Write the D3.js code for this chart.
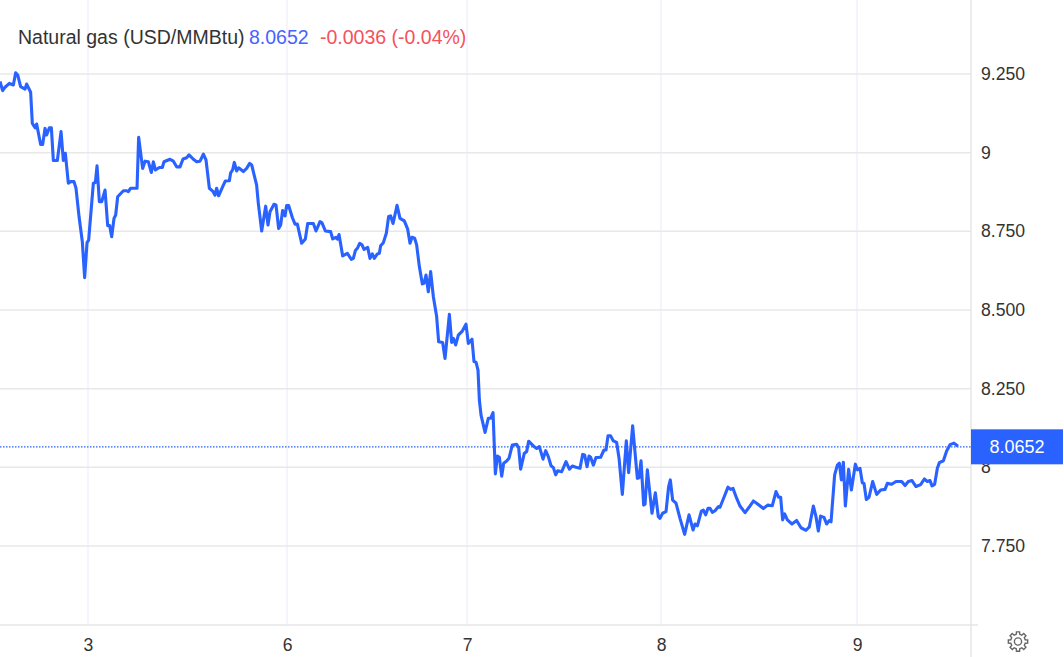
<!DOCTYPE html>
<html>
<head>
<meta charset="utf-8">
<title>Natural gas</title>
<script src="https://cdn.jsdelivr.net/npm/d3@7"></script>
<style>
  html, body { margin: 0; padding: 0; background: #fff; }
  svg { display: block; font-family: "Liberation Sans", Arial, sans-serif; }
</style>
</head>
<body>
<svg id="chart" width="1064" height="657"></svg>
<script>
// hours of trading since the left edge of the chart
const hours = [0,.33,.63,1.17,1.67,1.96,2.21,2.58,3.13,3.33,3.83,4.04,4.38,4.58,5.08,5.33,5.63,5.83,6.17,6.42,6.67,7.17,7.63,7.92,8.17,8.54,8.83,9.25,9.5,9.88,
  10.29,10.58,10.88,11.08,11.67,11.92,12.13,12.42,12.71,13.13,13.46,13.71,13.96,14.25,14.46,14.71,15.42,15.83,16.04,16.33,17.13,17.33,17.83,18.13,18.54,18.92,19.17,19.42,19.92,20.29,
  20.5,21.25,21.67,22.08,22.5,22.88,23.33,23.63,24.17,24.58,25,25.42,25.75,26.17,26.58,26.88,27.08,27.33,27.92,28.17,28.67,28.83,29.08,29.29,29.58,29.83,30.42,30.83,31.21,31.46,
  32.08,32.29,32.71,33.21,33.5,33.75,34.25,34.5,34.83,35.08,35.33,35.63,35.83,36.08,36.54,36.88,37.17,37.71,38.17,38.46,39.17,39.5,40,40.25,40.67,41.33,41.58,42,42.17,42.38,
  42.83,43.42,43.92,44.17,44.42,44.67,44.96,45.25,45.5,45.96,46.25,46.54,46.79,47.17,47.42,47.58,47.92,48.29,48.58,48.83,49.13,49.63,50,50.54,50.96,51.25,51.5,51.83,52.08,52.42,
  52.79,53,53.25,53.54,53.83,54.17,54.58,54.83,55.33,55.63,56.17,56.46,56.67,56.96,57.29,57.79,58.25,58.54,59,59.25,59.5,59.75,59.92,60.13,60.63,61.04,61.33,61.63,61.92,62.17,
  62.42,62.71,62.96,63.33,63.63,64.04,64.58,64.83,65.08,65.54,65.83,66.08,66.67,67.08,67.42,67.88,68.21,68.54,68.88,69.17,69.46,69.71,70.21,70.75,71.17,71.54,72,72.5,72.83,73.08,
  73.38,73.63,73.83,74.17,74.5,75.08,75.5,75.75,76,76.33,76.67,77.08,77.38,77.79,78.29,78.58,79.08,79.67,79.88,80.13,80.46,80.63,80.92,81.5,81.92,82.29,82.5,82.83,83.25,83.58,
  83.79,84.08,84.5,85,85.58,86.13,86.63,86.88,87.17,87.67,87.92,88.21,88.5,88.75,89.04,89.38,89.79,90,90.5,91,91.33,91.63,92.08,92.5,93.13,93.63,94.17,94.58,95.42,95.96,
  96.54,97,97.33,97.58,97.83,98.08,98.42,99,99.58,100.13,100.75,101.17,101.67,102,102.29,102.58,103,103.33,103.67,103.88,104.33,104.67,104.92,105.17,105.42,105.67,106.08,106.42,106.92,107.17,
  107.5,107.79,108,108.29,108.63,109.08,109.58,110.08,110.63,110.92,111.46,112,112.71,113.13,113.54,114,114.5,115.08,115.54,115.92,116.25,116.5,116.83,117.17,117.42,117.92,118.33,118.75,119.25,119.75];

// price in USD/MMBtu at each of those hours
const prices = [9.226,9.197,9.208,9.220,9.215,9.254,9.247,9.210,9.202,9.218,9.192,9.093,9.079,9.091,9.026,9.026,9.077,9.056,9.079,9.079,8.975,8.975,9.067,8.975,8.998,8.903,8.908,8.908,8.887,8.797,
  8.717,8.603,8.714,8.722,8.903,8.905,8.958,8.844,8.844,8.881,8.768,8.768,8.733,8.791,8.802,8.860,8.879,8.879,8.876,8.887,8.887,9.049,8.950,8.973,8.971,8.937,8.971,8.945,8.953,8.953,
  8.971,8.979,8.973,8.955,8.955,8.980,8.984,8.993,8.979,8.971,8.973,8.995,8.977,8.887,8.878,8.865,8.887,8.863,8.897,8.910,8.911,8.936,8.945,8.969,8.942,8.952,8.940,8.950,8.966,8.961,
  8.897,8.839,8.751,8.830,8.770,8.812,8.836,8.834,8.759,8.770,8.816,8.799,8.832,8.832,8.794,8.773,8.773,8.712,8.726,8.775,8.775,8.751,8.781,8.777,8.751,8.749,8.726,8.731,8.725,8.740,
  8.672,8.680,8.661,8.664,8.689,8.696,8.712,8.707,8.693,8.699,8.664,8.678,8.664,8.678,8.680,8.704,8.714,8.744,8.797,8.799,8.775,8.833,8.791,8.783,8.757,8.712,8.731,8.728,8.707,8.638,
  8.583,8.585,8.611,8.558,8.622,8.542,8.479,8.399,8.397,8.346,8.486,8.397,8.410,8.389,8.420,8.433,8.455,8.394,8.407,8.336,8.334,8.309,8.214,8.166,8.111,8.156,8.156,8.174,7.979,8.036,
  8.032,7.972,8.013,8.020,8.029,8.071,8.073,8.063,7.994,8.045,8.050,8.083,8.068,8.060,8.066,8.026,8.053,8.034,8.005,7.999,7.976,7.989,7.986,8.018,7.994,8.004,8.000,7.997,8.041,8.039,
  8.002,8.036,8.032,8.007,8.031,8.032,8.055,8.055,8.100,8.100,8.084,8.079,8.029,7.914,8.084,7.983,8.132,7.965,7.967,8.021,7.880,7.883,7.992,7.854,7.919,7.843,7.838,7.854,7.859,7.939,
  7.960,7.896,7.886,7.838,7.787,7.849,7.801,7.820,7.814,7.861,7.864,7.849,7.870,7.870,7.857,7.862,7.875,7.873,7.905,7.937,7.930,7.933,7.902,7.877,7.856,7.873,7.893,7.886,7.869,7.880,
  7.878,7.923,7.905,7.905,7.833,7.852,7.833,7.820,7.831,7.808,7.800,7.811,7.877,7.843,7.798,7.845,7.841,7.820,7.831,7.827,7.976,8.007,8.013,7.960,8.016,7.877,7.994,7.928,8.010,7.992,
  7.997,7.951,7.949,7.898,7.905,7.955,7.914,7.928,7.930,7.949,7.946,7.955,7.955,7.942,7.955,7.958,7.939,7.945,7.963,7.955,7.958,7.941,7.946,7.997,8.015,8.021,8.052,8.072,8.077,8.067];

const dayHours = [11, 35.88, 58.38, 82.63, 107.13];
const dayLabels = ['3', '6', '7', '8', '9'];
const priceTicks = [7.75, 8, 8.25, 8.5, 8.75, 9, 9.25];
const lastPrice = 8.0652;

const width = 1064, height = 657;
const plotRight = 971, plotBottom = 625;
const blue = '#2962ff';

const svg = d3.select('#chart');
const x = d3.scaleLinear().domain([0, 120]).range([0, 960]);
const y = d3.scaleLinear().domain([7.75, 9.25]).range([546, 74]);

// vertical grid
svg.append('g').selectAll('line')
  .data(dayHours)
  .join('line')
    .attr('x1', d => x(d)).attr('x2', d => x(d))
    .attr('y1', 0).attr('y2', plotBottom)
    .attr('stroke', '#f0f3fa').attr('stroke-width', 1.5);

// horizontal grid
svg.append('g').selectAll('line')
  .data(priceTicks)
  .join('line')
    .attr('x1', 0).attr('x2', plotRight)
    .attr('y1', d => y(d)).attr('y2', d => y(d))
    .attr('stroke', '#e8e8e8').attr('stroke-width', 1.5);

// frame lines
svg.append('line').attr('x1', plotRight).attr('x2', plotRight).attr('y1', 0).attr('y2', height)
  .attr('stroke', '#e6e6e6').attr('stroke-width', 1.5);
svg.append('line').attr('x1', 0).attr('x2', 978).attr('y1', plotBottom).attr('y2', plotBottom)
  .attr('stroke', '#e6e6e6').attr('stroke-width', 1.5);

// axes
const yAxis = d3.axisRight(y)
  .tickValues(priceTicks)
  .tickSize(0).tickPadding(0)
  .tickFormat(d => Number.isInteger(d) ? String(d) : d.toFixed(3));
const yG = svg.append('g').attr('transform', `translate(${plotRight + 10},0)`).call(yAxis);
yG.select('.domain').remove();
yG.selectAll('text').attr('font-size', 17.6).attr('font-family', 'inherit').attr('fill', '#333');

const xAxis = d3.axisBottom(x)
  .tickValues(dayHours)
  .tickSize(0).tickPadding(0)
  .tickFormat((d, i) => dayLabels[i]);
const xG = svg.append('g').attr('transform', 'translate(0,638)').call(xAxis);
xG.select('.domain').remove();
xG.selectAll('text').attr('font-size', 17.6).attr('font-family', 'inherit').attr('fill', '#333');

// last price line
svg.append('line')
  .attr('x1', 0).attr('x2', plotRight)
  .attr('y1', y(lastPrice)).attr('y2', y(lastPrice))
  .attr('stroke', blue).attr('stroke-width', 1.2).attr('stroke-dasharray', '1.5 1.5');

// price line
const line = d3.line().x((d, i) => x(hours[i])).y(d => y(d));
svg.append('path')
  .datum(prices)
  .attr('d', line)
  .attr('fill', 'none')
  .attr('stroke', blue)
  .attr('stroke-width', 3.1)
  .attr('stroke-linejoin', 'round');

// last price label
svg.append('rect')
  .attr('x', plotRight).attr('y', y(lastPrice) - 17.5)
  .attr('width', width - plotRight - 1).attr('height', 35)
  .attr('fill', blue);
svg.append('text')
  .attr('x', 1017).attr('y', y(lastPrice) + 6.5)
  .attr('text-anchor', 'middle')
  .attr('font-size', 18).attr('fill', '#fff')
  .text(lastPrice.toFixed(4));

// header
const header = svg.append('text').attr('x', 18).attr('y', 43.5).attr('font-size', 19.5);
header.append('tspan').attr('fill', '#333').text('Natural gas (USD/MMBtu)');
header.append('tspan').attr('x', 249).attr('fill', '#4763ff').text('8.0652');
header.append('tspan').attr('x', 320).attr('fill', '#f5525c').text('-0.0036 (-0.04%)');

// settings gear
const gearPts = d3.range(0, 8).flatMap(k => {
  const a = k * Math.PI / 4;
  return [[a - 0.24, 7.4], [a - 0.16, 9.8], [a + 0.16, 9.8], [a + 0.24, 7.4]];
});
const gear = svg.append('g').attr('transform', 'translate(1018,641.5)')
  .attr('fill', 'none').attr('stroke', '#666').attr('stroke-width', 1.4);
gear.append('path').attr('d', d3.lineRadial().angle(d => d[0]).radius(d => d[1]).curve(d3.curveLinearClosed)(gearPts));
gear.append('circle').attr('r', 3.6);
</script>
</body>
</html>
